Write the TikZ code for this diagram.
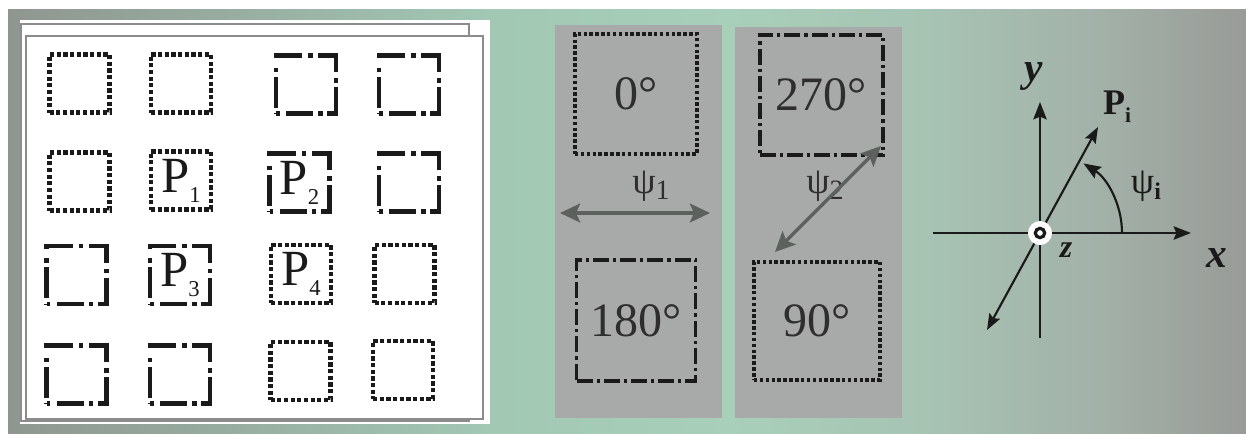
\documentclass[tikz,border=0pt]{standalone}
\usepackage{fontspec}
\setmainfont{Liberation Serif}
\usetikzlibrary{arrows.meta}
\definecolor{bgA}{HTML}{8F9690}
\definecolor{bgB}{HTML}{A2C8B4}
\definecolor{bgC}{HTML}{A8CFBA}
\definecolor{bgD}{HTML}{A7C3B3}
\definecolor{bgE}{HTML}{A3B1A9}
\definecolor{bgF}{HTML}{999B97}
\definecolor{panelgrey}{HTML}{A8AAA9}
\definecolor{pageline}{HTML}{8C8C8C}
\definecolor{arrowgrey}{HTML}{5C615E}
\definecolor{inkdark}{HTML}{1A1A1A}
\definecolor{textgrey}{HTML}{2E2E2E}
\pgfdeclarehorizontalshading{bgshade}{100bp}{color(0bp)=(bgA); color(25bp)=(bgA); color(44.7bp)=(bgB); color(54.2bp)=(bgC); color(62.2bp)=(bgD); color(69.1bp)=(bgE); color(75bp)=(bgF); color(100bp)=(bgF)}
\begin{document}
\begin{tikzpicture}[x=0.75pt,y=-0.75pt,
  sqbase/.style={inner sep=0pt, outer sep=0pt, text=inkdark},
  dotL/.style={sqbase, draw=inkdark, line width=3.5pt, dash pattern=on 3.2pt off 1.8pt,
    minimum width=45pt, minimum height=43.5pt},
  dashL/.style={sqbase, draw=inkdark, line width=3.6pt,
    dash pattern=on 2.8pt off 4.9pt on 20.4pt off 3.5pt on 3.5pt off 3.5pt on 26pt off 3.5pt on 3.5pt off 4.2pt on 26pt off 4.2pt on 3.5pt off 4.2pt on 21.8pt off 7pt on 3.5pt off 3.5pt on 23.2pt off 4.2pt on 2.8pt,
    minimum width=45pt, minimum height=43.5pt},
  dotM/.style={sqbase, draw=inkdark, line width=2.8pt, dash pattern=on 2.6pt off 1.8pt, text=textgrey,
    font=\fontsize{36}{36}\selectfont},
  dashM/.style={sqbase, draw=inkdark, line width=2.6pt, dash pattern=on 12pt off 3pt on 2.4pt off 3pt, text=textgrey,
    font=\fontsize{36}{36}\selectfont},
  plabel/.style={font=\fontsize{38}{38}\selectfont},
  greyarrow/.style={draw=arrowgrey, line width=3.2pt, {Stealth[length=15pt,width=14pt,inset=3pt]}-{Stealth[length=15pt,width=14pt,inset=3pt]}},
  axisline/.style={draw=inkdark, line width=1.6pt},
  axisarrow/.style={axisline, -{Stealth[length=13pt,width=10pt,inset=2pt]}},
  dblarrow/.style={axisline, {Stealth[length=12pt,width=9pt,inset=2pt]}-{Stealth[length=12pt,width=9pt,inset=2pt]}},
  lbl/.style={text=inkdark, inner sep=0pt}
]
\useasboundingbox (0,0) rectangle (1246,433);
\fill[white] (0,0) rectangle (1246,433);
\shade[shading=bgshade] (8,9) rectangle (1246,433);

% left page
\fill[white] (20,20) rectangle (490,424);
\draw[pageline, line width=1.1pt] (21,24) rectangle (469,421);
\filldraw[fill=white, draw=pageline, line width=1.1pt] (26,36) rectangle (483,419);

% grid of squares
\node[dotL]  (s11) at (79.5,83.5) {};
\node[dotL]  (s12) at (181,83.5) {};
\node[dashL] (s13) at (306,84.5) {};
\node[dashL] (s14) at (409,84.5) {};
\node[dotL]  (s21) at (79.5,181.5) {};
\node[dotL, plabel]  (s22) at (181,180.5) {P\raisebox{-7.5pt}{\fontsize{17}{17}\selectfont 1}};
\node[dashL, plabel] (s23) at (299.5,182.5) {P\raisebox{-7.5pt}{\fontsize{17}{17}\selectfont 2}};
\node[dashL] (s24) at (409,182.5) {};
\node[dashL] (s31) at (76.5,275) {};
\node[dashL, plabel] (s32) at (180,275) {P\raisebox{-7.5pt}{\fontsize{17}{17}\selectfont 3}};
\node[dotL, plabel]  (s33) at (301,274) {P\raisebox{-7.5pt}{\fontsize{17}{17}\selectfont 4}};
\node[dotL]  (s34) at (404.5,274) {};
\node[dashL] (s41) at (76.5,374.5) {};
\node[dashL] (s42) at (180,374.5) {};
\node[dotL]  (s43) at (300.5,371) {};
\node[dotL]  (s44) at (403,370) {};

% middle panels
\fill[panelgrey] (555,25) rectangle (722,418);
\fill[panelgrey] (735,27) rectangle (902,418);
\node[dotM, minimum width=91.5pt, minimum height=90pt] (m0) at (636,94) {0°};
\node[dashM, minimum width=89pt, minimum height=91pt] (m180) at (636,320.5) {180°};
\node[dashM, minimum width=92.5pt, minimum height=90.25pt] (m270) at (821.5,95) {270°};
\node[dotM, minimum width=94.5pt, minimum height=88.5pt] (m90) at (817,321) {90°};

\node[lbl, text=textgrey, font=\fontsize{28}{28}\selectfont] (psi1) at (651,186) {ψ\raisebox{-5pt}{\fontsize{21}{21}\selectfont 1}};
\node[lbl, text=textgrey, font=\fontsize{28}{28}\selectfont] (psi2) at (825,186) {ψ\raisebox{-5pt}{\fontsize{21}{21}\selectfont 2}};
\coordinate (a1l) at (560,213);
\coordinate (a1r) at (710,213);
\coordinate (a2l) at (775,252);
\coordinate (a2r) at (881,146);
\draw[greyarrow] (a1l) -- (a1r);
\draw[greyarrow, line width=2.5pt] (a2l) -- (a2r);

% axes
\coordinate (O) at (1040,233);
\coordinate (xl) at (933,233);
\coordinate (xr) at (1191,233);
\coordinate (yb) at (1040,338);
\coordinate (yt) at (1040,102);
\coordinate (pb) at (987,330);
\coordinate (pt) at (1098,127);
\coordinate (arcS) at (1122,233);
\draw[axisarrow] (xl) -- (xr);
\draw[axisarrow] (yb) -- (yt);
\draw[dblarrow] (pb) -- (pt);
\draw[axisarrow] (arcS) arc[start angle=0, end angle=-58, radius=82];
\node[circle, fill=white, minimum size=18pt, inner sep=0pt] (Odisk) at (O) {};
\node[circle, draw=inkdark, line width=2.4pt, minimum size=7pt, inner sep=0pt] (Oring) at (O) {};

\node[lbl, font=\fontsize{31}{31}\selectfont\bfseries\itshape] (ylab) at (1034,76) {y};
\node[lbl, font=\fontsize{31}{31}\selectfont\bfseries\itshape] (xlab) at (1217,258) {x};
\node[lbl, font=\fontsize{24}{24}\selectfont\bfseries\itshape] (zlab) at (1066,250) {z};
\node[lbl, font=\fontsize{27}{27}\selectfont\bfseries] (Plab) at (1117,107) {P\raisebox{-6pt}{\fontsize{16}{16}\selectfont i}};
\node[lbl, font=\fontsize{28}{28}\selectfont] (psii) at (1146,186) {ψ\raisebox{-5pt}{\fontsize{18}{18}\selectfont\bfseries i}};
\end{tikzpicture}
\end{document}
